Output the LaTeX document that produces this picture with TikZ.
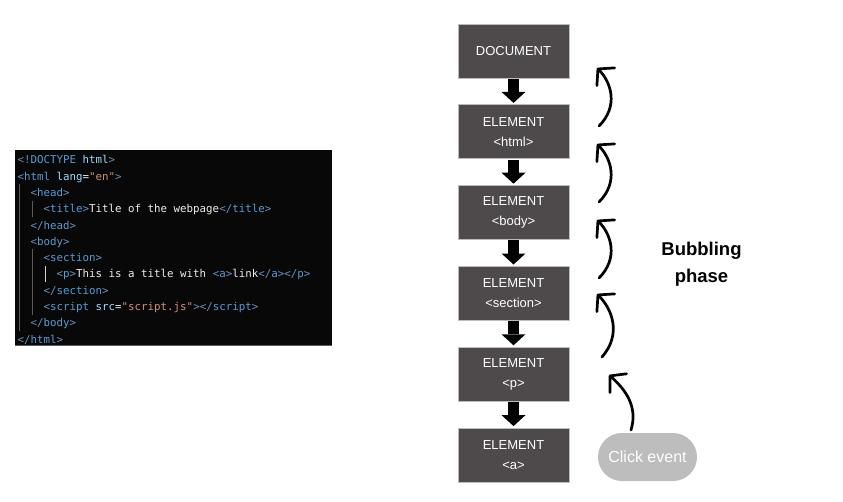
\documentclass[tikz,border=0pt]{standalone}
\usepackage{fontspec}
\setmainfont{Liberation Sans}
\newfontfamily\codefont{DejaVu Sans Mono}
\usetikzlibrary{shapes,arrows.meta}

\definecolor{boxgray}{HTML}{4E4A4B}
\definecolor{boxline}{HTML}{BDBDBD}
\definecolor{pillgray}{HTML}{BDBDBD}
\definecolor{codebg}{HTML}{080808}
\definecolor{tagblue}{HTML}{569CD6}
\definecolor{brk}{HTML}{6F8FB8}
\definecolor{attrblue}{HTML}{9CDCFE}
\definecolor{strorange}{HTML}{CE9178}
\definecolor{codetext}{HTML}{EDEDED}
\definecolor{guide}{HTML}{5C5C5C}
\definecolor{guideon}{HTML}{CFCFCF}

\newcommand{\otag}[1]{\textcolor{brk}{<}\textcolor{tagblue}{#1}\textcolor{brk}{>}}
\newcommand{\ctag}[1]{\textcolor{brk}{</}\textcolor{tagblue}{#1}\textcolor{brk}{>}}

\tikzset{
  domnode/.style={shape=rectangle,draw=boxline,fill=boxgray,text=white,align=center,line width=0.8pt,minimum width=111bp,minimum height=54bp,inner sep=0pt,font=\fontsize{13bp}{20bp}\selectfont},
  codeline/.style={anchor=base west,inner sep=0pt,text=codetext,font=\codefont\fontsize{10.8bp}{16bp}\selectfont},
  bubble/.style={draw=black,line width=2.7bp,line cap=round,-{Straight Barb[length=11bp,width=25bp,round]}},
}

\begin{document}
\begin{tikzpicture}[x=1bp,y=-1bp]\path[use as bounding box] (0,0) rectangle (843,502);

% code panel
\fill[codebg] (15,150) rectangle (332,345);
\draw[guide,line width=0.6bp] (15,345) -- (332,345);
\draw[guide,line width=1bp] (19,184.4) -- (19,330.8);
\draw[guide,line width=1bp] (32,200.7) -- (32,216.9);
\draw[guide,line width=1bp] (32,249.5) -- (32,314.5);
\draw[guideon,line width=1bp] (45,265.8) -- (45,282);

\node[codeline] (c1) at (17.5,164) {\textcolor{brk}{<!}\textcolor{tagblue}{DOCTYPE} \textcolor{attrblue}{html}\textcolor{brk}{>}};
\node[codeline] (c2) at (17.5,180.3) {\textcolor{brk}{<}\textcolor{tagblue}{html} \textcolor{attrblue}{lang}=\textcolor{strorange}{"en"}\textcolor{brk}{>}};
\node[codeline] (c3) at (30.5,196.5) {\otag{head}};
\node[codeline] (c4) at (43.5,212.8) {\otag{title}Title of the webpage\ctag{title}};
\node[codeline] (c5) at (30.5,229.1) {\ctag{head}};
\node[codeline] (c6) at (30.5,245.4) {\otag{body}};
\node[codeline] (c7) at (43.5,261.6) {\otag{section}};
\node[codeline] (c8) at (56.5,277.9) {\otag{p}This is a title with \otag{a}link\ctag{a}\ctag{p}};
\node[codeline] (c9) at (43.5,294.2) {\ctag{section}};
\node[codeline] (c10) at (43.5,310.4) {\textcolor{brk}{<}\textcolor{tagblue}{script} \textcolor{attrblue}{src}=\textcolor{strorange}{"script.js"}\textcolor{brk}{>}\ctag{script}};
\node[codeline] (c11) at (30.5,326.7) {\ctag{body}};
\node[codeline] (c12) at (17.5,343) {\ctag{html}};

% dom tree
\node[domnode] (0) at (513.5,51) {DOCUMENT};
\node[domnode] (1) at (513.5,131.8) {ELEMENT\\<html>};
\node[domnode] (2) at (513.5,212.6) {ELEMENT\\<body>};
\node[domnode] (3) at (513.5,293.4) {ELEMENT\\<section>};
\node[domnode] (4) at (513.5,374.2) {ELEMENT\\<p>};
\node[domnode] (5) at (513.5,455) {ELEMENT\\<a>};

\path [-{Triangle[length=11bp,width=24bp,line width=0pt]},draw=black,line width=11bp,shorten <=0.5bp,shorten >=1.5bp] (0) edge (1);
\path [-{Triangle[length=11bp,width=24bp,line width=0pt]},draw=black,line width=11bp,shorten <=0.5bp,shorten >=1.5bp] (1) edge (2);
\path [-{Triangle[length=11bp,width=24bp,line width=0pt]},draw=black,line width=11bp,shorten <=0.5bp,shorten >=1.5bp] (2) edge (3);
\path [-{Triangle[length=11bp,width=24bp,line width=0pt]},draw=black,line width=11bp,shorten <=0.5bp,shorten >=1.5bp] (3) edge (4);
\path [-{Triangle[length=11bp,width=24bp,line width=0pt]},draw=black,line width=11bp,shorten <=0.5bp,shorten >=1.5bp] (4) edge (5);

% event and bubbling
\node[shape=rounded rectangle,fill=pillgray,text=white,minimum width=99bp,minimum height=48bp,inner sep=0pt,font=\fontsize{16bp}{18bp}\selectfont] (click) at (647.5,457) {Click event};
\node[align=center,font=\bfseries\fontsize{18.5bp}{27bp}\selectfont] (phase) at (701.5,264) {Bubbling\\phase};

\coordinate (t0) at (599,126); \coordinate (h0) at (597,68);
\coordinate (t1) at (599,202); \coordinate (h1) at (597,144);
\coordinate (t2) at (599,278); \coordinate (h2) at (597,220);
\coordinate (t3) at (602,357); \coordinate (h3) at (597,294);
\coordinate (t4) at (631,430); \coordinate (h4) at (609,375);

\draw[bubble] (t0) .. controls (619,106) and (611,82) .. (h0);
\draw[bubble] (t1) .. controls (619,182) and (611,158) .. (h1);
\draw[bubble] (t2) .. controls (619,258) and (611,234) .. (h2);
\draw[bubble] (t3) .. controls (622,334) and (612,309) .. (h3);
\draw[bubble] (t4) .. controls (638,407) and (626,390) .. (h4);
\end{tikzpicture}
\end{document}
